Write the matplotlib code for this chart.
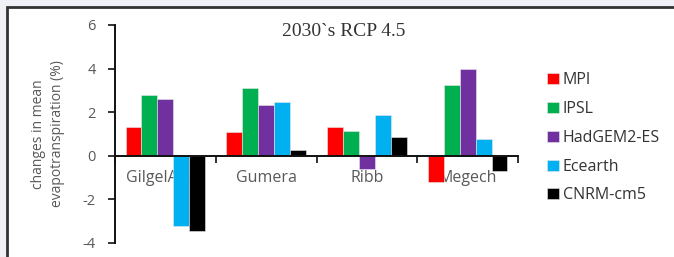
import numpy as np
import matplotlib.pyplot as plt
from matplotlib.patches import Rectangle

# Data
basins = ['GilgelAbay', 'Gumera', 'Ribb', 'Megech']
models = ['MPI', 'IPSL', 'HadGEM2-ES', 'Ecearth', 'CNRM-cm5']
mpi = [1.34, 1.07, 1.30, -1.18]
ipsl = [2.80, 3.10, 1.15, 3.26]
hadgem = [2.60, 2.34, -0.61, 3.99]
ecearth = [-3.24, 2.46, 1.85, 0.77]
cnrm = [-3.47, 0.28, 0.86, -0.69]
colors = ['#FF0000', '#00B050', '#7030A0', '#00B0F0', '#000000']
yticks = [-4, -2, 0, 2, 4, 6]

W, H = 674, 257
fig = plt.figure(figsize=(W / 100, H / 100), dpi=100)
fig.patch.set_facecolor('#EFF1F6')

# White panel with dark frame on top and left
frame = Rectangle((7 / W, -0.1), 1.2, 1 - 7 / H + 0.1, transform=fig.transFigure,
                  facecolor='white', edgecolor='#333333', linewidth=2, zorder=-1)
fig.patches.append(frame)

ax = fig.add_axes([115 / W, 1 - 243 / H, 403 / W, 218 / H])
ax.set_facecolor('none')
ax.set_zorder(2)

x = np.arange(len(basins))
width = 0.158
series = [mpi, ipsl, hadgem, ecearth, cnrm]
for i, (name, vals, c) in enumerate(zip(models, series, colors)):
    ax.bar(x + (i - 2) * width, vals, width, color=c, label=name,
           edgecolor='#E8E8E8', linewidth=0.4, zorder=2)

ax.set_xlim(-0.5, len(basins) - 0.5)
ax.set_ylim(-4, 6)
ax.set_yticks(yticks)
ax.set_yticklabels([str(t) for t in yticks])

ax.spines['top'].set_visible(False)
ax.spines['right'].set_visible(False)
ax.spines['bottom'].set_position(('data', 0))
ax.spines['bottom'].set_zorder(3)
ax.spines['left'].set_linewidth(1.4)
ax.spines['bottom'].set_linewidth(1.4)
ax.spines['left'].set_color('#111111')
ax.spines['bottom'].set_color('#111111')

ax.set_xticks(x)
ax.set_xticklabels(basins)
ax.set_xticks(np.arange(len(basins) + 1) - 0.5, minor=True)
ax.tick_params(axis='x', which='major', length=0, pad=10, labelsize=11.5,
               labelcolor='#595959')
ax.tick_params(axis='x', which='minor', length=5, width=1.2, direction='out',
               color='#111111')
ax.tick_params(axis='y', length=5, width=1.2, direction='out', labelsize=10.5,
               labelcolor='#595959', color='#111111', pad=9)
for lab in ax.get_xticklabels() + ax.get_yticklabels():
    lab.set_fontfamily('Open Sans')
for lab in ax.get_xticklabels():
    lab.set_zorder(1)

fig.text(48 / W, 1 - 134 / H, 'changes in mean\nevapotranspiration (%)',
         rotation=90, ha='center', va='center', fontsize=10,
         color='#595959', family='Open Sans', linespacing=1.4)

fig.text(344 / W, 1 - 31 / H, '2030`s RCP 4.5', ha='center', va='center',
         fontsize=14, family='Liberation Serif', color='#333333')

leg = ax.legend(loc='upper left', bbox_to_anchor=(533 / W, 1 - 58 / H),
                bbox_transform=fig.transFigure, frameon=False,
                prop={'family': 'Open Sans', 'size': 11.5}, labelspacing=0.8,
                handlelength=0.7, handleheight=0.7, handletextpad=0.25)
for t in leg.get_texts():
    t.set_color('#333333')

fig.savefig('out.png', dpi=100, facecolor=fig.get_facecolor())
